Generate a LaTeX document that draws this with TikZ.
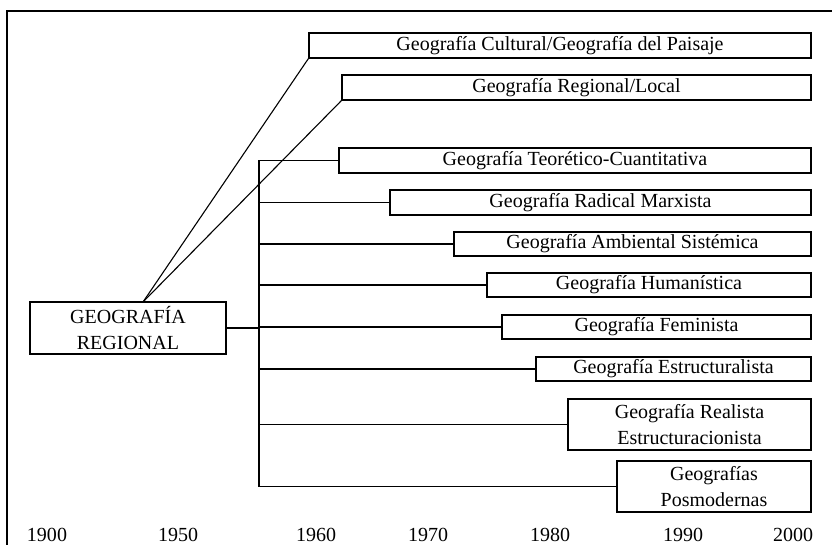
\documentclass[tikz,border=0pt]{standalone}
\usepackage{fontspec}
\setmainfont{Liberation Serif}
\usetikzlibrary{calc}
\begin{document}
\begin{tikzpicture}[x=1pt,y=-1pt,
  box/.style={draw, line width=1.3pt, inner sep=0pt, align=center,
    font=\fontsize{20}{25.5}\selectfont},
  root/.style={box, line width=1.9pt},
  link/.style={line width=1.1pt},
  year/.style={font=\fontsize{20}{24}\selectfont, inner sep=0pt}]
\useasboundingbox (0,0) rectangle (832,545);
% outer frame (only top and left sides fall inside the page)
\draw[line width=2.2pt] (7,546) -- (7,11) -- (833,11);

% root node
\node[root, minimum width=196pt, minimum height=52pt] (GR) at (128,328)
  {GEOGRAFÍA\\REGIONAL};

% branches
\node[box, minimum width=502pt, minimum height=25pt] (B1) at (560,45.5)
  {Geografía Cultural/Geografía del Paisaje};
\node[box, minimum width=469pt, minimum height=25pt] (B2) at (576.5,87.5)
  {Geografía Regional/Local};
\node[box, minimum width=472pt, minimum height=25pt] (B3) at (575,160.5)
  {Geografía Teorético-Cuantitativa};
\node[box, minimum width=421pt, minimum height=25pt] (B4) at (600.5,202.5)
  {Geografía Radical Marxista};
\node[box, minimum width=357pt, minimum height=24pt] (B5) at (632.5,244)
  {Geografía Ambiental Sistémica};
\node[box, minimum width=324pt, minimum height=24pt] (B6) at (649,285)
  {Geografía Humanística};
\node[box, minimum width=309pt, minimum height=24pt] (B7) at (656.5,327)
  {Geografía Feminista};
\node[box, minimum width=275pt, minimum height=24pt] (B8) at (673.5,369)
  {Geografía Estructuralista};
\node[box, minimum width=243pt, minimum height=51pt] (B9) at (689.5,424.5)
  {Geografía Realista\\Estructuracionista};
\node[box, minimum width=194pt, minimum height=51pt] (B10) at (714,486.5)
  {Geografías\\Posmodernas};

% connectors
\coordinate (trunk) at (259,0);
\coordinate (apex) at (143,302);
\draw[link] (apex) -- (B1.south west);
\draw[link] (apex) -- (B2.south west);
\draw[link] (GR.east) -- (GR.east -| trunk);
\draw[link] (B3.west -| trunk) -- (B10.west -| trunk);
\foreach \b in {B3,B4,B5,B6,B7,B8,B9,B10}
  \draw[link] (\b.west) -- (\b.west -| trunk);

% time axis
\node[year] (y1900) at (47,535) {1900};
\node[year] (y1950) at (178,535) {1950};
\node[year] (y1960) at (316,535) {1960};
\node[year] (y1970) at (428,535) {1970};
\node[year] (y1980) at (550,535) {1980};
\node[year] (y1990) at (683,535) {1990};
\node[year] (y2000) at (793,535) {2000};
\end{tikzpicture}
\end{document}
